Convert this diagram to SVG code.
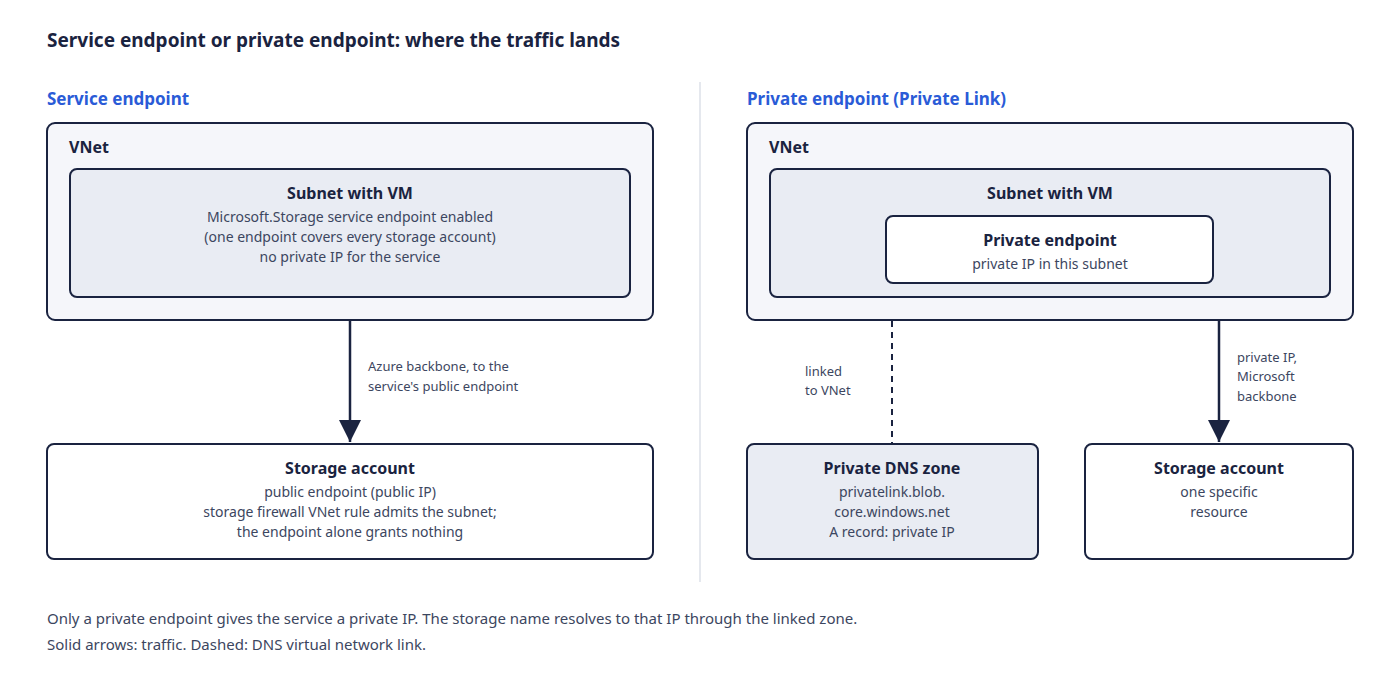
<svg xmlns="http://www.w3.org/2000/svg" width="1400" height="700" viewBox="0 0 1400 700">
<defs>
<marker id="ah" viewBox="0 0 12 12" refX="11" refY="6" markerWidth="12" markerHeight="12" markerUnits="userSpaceOnUse" orient="auto"><path d="M0,0 L12,6 L0,12 z" fill="#1a2340"/></marker>
<marker id="ahb" viewBox="0 0 20 20" refX="20" refY="10" markerWidth="22" markerHeight="22" markerUnits="userSpaceOnUse" orient="auto"><path d="M0,0 L20,10 L0,20 z" fill="#1a2340"/></marker>
</defs>
<style>
text{font-family:"Noto Sans","Open Sans",sans-serif;fill:#1a2340}
.t{font-size:19px;font-weight:700}
.h{font-size:17px;font-weight:700;fill:#2a5bd7}
.b{font-size:16px;font-weight:700}
.s{font-size:14px;fill:#3c4660}
.e{font-size:13px;fill:#3c4660}
.f{font-size:15px;fill:#3c4660}
.box{stroke:#1a2340;stroke-width:2}
</style>
<rect width="1400" height="700" fill="#ffffff"/>
<text x="47" y="47" class="t">Service endpoint or private endpoint: where the traffic lands</text>
<text x="47" y="105" class="h">Service endpoint</text>
<text x="747" y="105" class="h">Private endpoint (Private Link)</text>
<line x1="700" y1="82" x2="700" y2="582" stroke="#dde1e8" stroke-width="1.5"/>
<g id="vnet-left"><rect class="box" x="47" y="123" width="606" height="197" rx="8" fill="#f5f6fa"/><text x="69" y="153" class="b">VNet</text></g>
<g id="subnet-left"><rect class="box" x="70" y="169" width="560" height="128" rx="7" fill="#e9ecf3"/>
<text x="350" y="199" class="b" text-anchor="middle">Subnet with VM</text>
<text x="350" y="222" class="s" text-anchor="middle">Microsoft.Storage service endpoint enabled</text>
<text x="350" y="242" class="s" text-anchor="middle">(one endpoint covers every storage account)</text>
<text x="350" y="262" class="s" text-anchor="middle">no private IP for the service</text></g>
<g id="storage-left"><rect class="box" x="47" y="444" width="606" height="115" rx="7" fill="#ffffff"/>
<text x="350" y="474" class="b" text-anchor="middle">Storage account</text>
<text x="350" y="497" class="s" text-anchor="middle">public endpoint (public IP)</text>
<text x="350" y="517" class="s" text-anchor="middle">storage firewall VNet rule admits the subnet;</text>
<text x="350" y="537" class="s" text-anchor="middle">the endpoint alone grants nothing</text></g>
<g id="vnet-right"><rect class="box" x="747" y="123" width="606" height="197" rx="8" fill="#f5f6fa"/><text x="769" y="153" class="b">VNet</text></g>
<g id="subnet-right"><rect class="box" x="770" y="169" width="560" height="128" rx="7" fill="#e9ecf3"/>
<text x="1050" y="199" class="b" text-anchor="middle">Subnet with VM</text></g>
<g id="pe"><rect class="box" x="886" y="216" width="327" height="67" rx="7" fill="#ffffff"/>
<text x="1050" y="246" class="b" text-anchor="middle">Private endpoint</text>
<text x="1050" y="269" class="s" text-anchor="middle">private IP in this subnet</text></g>
<g id="dns"><rect class="box" x="747" y="444" width="291" height="115" rx="7" fill="#e9ecf3"/>
<text x="892" y="474" class="b" text-anchor="middle">Private DNS zone</text>
<text x="892" y="497" class="s" text-anchor="middle">privatelink.blob.</text>
<text x="892" y="517" class="s" text-anchor="middle">core.windows.net</text>
<text x="892" y="537" class="s" text-anchor="middle">A record: private IP</text></g>
<g id="storage-right"><rect class="box" x="1085" y="444" width="268" height="115" rx="7" fill="#ffffff"/>
<text x="1219" y="474" class="b" text-anchor="middle">Storage account</text>
<text x="1219" y="497" class="s" text-anchor="middle">one specific</text>
<text x="1219" y="517" class="s" text-anchor="middle">resource</text></g>
<g id="connectors">
<line x1="350" y1="321" x2="350" y2="442" stroke="#1a2340" stroke-width="2.5" marker-end="url(#ahb)"/>
<line x1="892" y1="321" x2="892" y2="443" stroke="#1a2340" stroke-width="2" stroke-dasharray="6,5"/>
<line x1="1219" y1="321" x2="1219" y2="442" stroke="#1a2340" stroke-width="2.5" marker-end="url(#ahb)"/>
<text x="368" y="371" class="e">Azure backbone, to the</text>
<text x="368" y="391" class="e">service's public endpoint</text>
<text x="805" y="376" class="e">linked</text>
<text x="805" y="395" class="e">to VNet</text>
<text x="1237" y="362" class="e">private IP,</text>
<text x="1237" y="381" class="e">Microsoft</text>
<text x="1237" y="401" class="e">backbone</text>
</g>
<text x="47" y="624" class="f">Only a private endpoint gives the service a private IP. The storage name resolves to that IP through the linked zone.</text>
<text x="47" y="650" class="f">Solid arrows: traffic. Dashed: DNS virtual network link.</text>
</svg>
